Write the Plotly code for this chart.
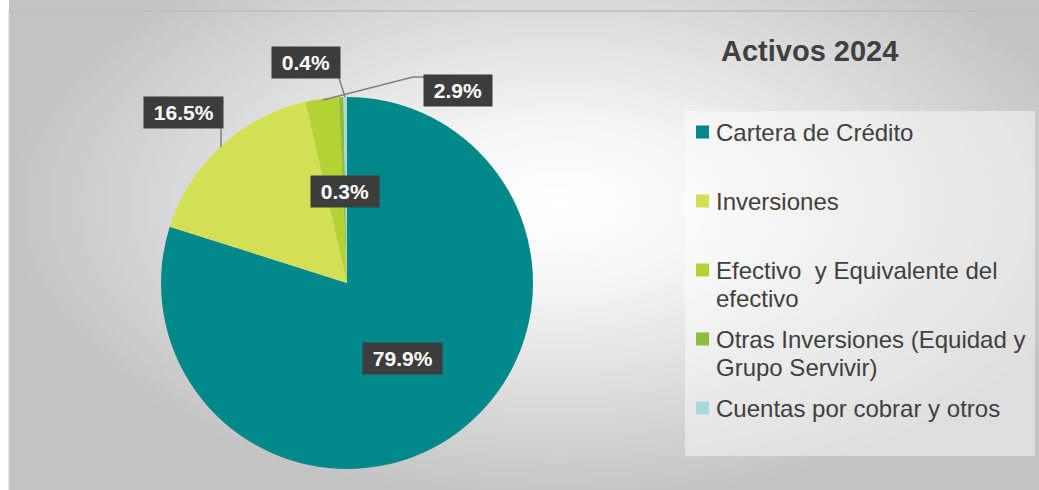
import plotly.graph_objects as go

# ---- data ----
categories = [
    "Cartera de Crédito",
    "Inversiones",
    "Efectivo \u00a0y Equivalente del\nefectivo",
    "Otras Inversiones (Equidad y\nGrupo Servivir)",
    "Cuentas por cobrar y otros",
]
values = [79.9, 16.5, 2.9, 0.4, 0.3]
colors = ["#00888B", "#D3E056", "#B3D335", "#8CBD3E", "#A9D8DA"]
title_text = "Activos 2024"

W, H = 1039, 490
OFF = 0  # body margin removed via post_script; layout coordinates are screen pixels
FONT = "Liberation Sans, Arial, sans-serif"

# label box centres (layout) and leader lines (layout), per slice
label_pos = [(402.5, 358.5), (183, 112), (457.5, 90.5), (306, 62), (344.5, 191.5)]
leaders = [None, [(221, 129), (221, 147)], [(323, 100), (413, 77), (425, 77)],
           [(339, 78), (345, 97)], None]

fig = go.Figure()

# background with radial gradient
bx0, bx1, by0, by1 = 9, 1111, -90, 500
fig.add_trace(go.Scatter(
    x=[bx0, bx1, bx1, bx0, bx0], y=[by0, by0, by1, by1, by0],
    mode="lines", fill="toself", line=dict(width=0),
    fillgradient=dict(type="radial",
                      colorscale=[[0, "#ffffff"], [0.25, "#f7f7f7"], [1, "#c4c4c4"]]),
    hoverinfo="skip", showlegend=False,
))

# pie
cx, cy, r = 347, 283, 186
fig.add_trace(go.Pie(
    labels=[c.replace("\n", " ") for c in categories], values=values,
    marker=dict(colors=colors, line=dict(width=0)),
    sort=False, direction="clockwise", rotation=0,
    textinfo="none", hoverinfo="skip", showlegend=False,
    domain=dict(x=[(cx - r - OFF) / W, (cx + r - OFF) / W],
                y=[1 - (cy + r - OFF) / H, 1 - (cy - r - OFF) / H]),
))

shapes = []
annotations = []

# chart frame lines
shapes.append(dict(type="line", xref="x", yref="y", x0=9, y0=11, x1=W + OFF, y1=11,
                   line=dict(color="#bdbdbd", width=1.5)))
shapes.append(dict(type="line", xref="x", yref="y", x0=9, y0=11, x1=9, y1=H + OFF,
                   line=dict(color="#cfcfcf", width=1)))

# legend box
shapes.append(dict(type="rect", xref="x", yref="y", x0=685, y0=111, x1=1035, y1=456,
                   fillcolor="rgba(255,255,255,0.45)", line=dict(width=0), layer="above"))

# leader lines
for ld in leaders:
    if ld is None:
        continue
    for (xa, ya), (xb, yb) in zip(ld[:-1], ld[1:]):
        shapes.append(dict(type="line", xref="x", yref="y", x0=xa, y0=ya, x1=xb, y1=yb,
                           line=dict(color="#7f7f7f", width=1.5)))

# data labels
for v, (lx, ly) in zip(values, label_pos):
    annotations.append(dict(
        x=lx, y=ly, xref="x", yref="y", showarrow=False,
        text=f"<b>\u00a0{v:.1f}%\u00a0</b>",
        font=dict(family=FONT, size=21, color="white"),
        bgcolor="#3d3d3d", borderpad=4, xanchor="center", yanchor="middle",
    ))

# title
annotations.append(dict(x=809, y=51, xref="x", yref="y", showarrow=False,
                        text=f"<b>{title_text}</b>",
                        font=dict(family=FONT, size=29, color="#404040"),
                        xanchor="center", yanchor="middle"))

# custom legend
for i, (cat, col) in enumerate(zip(categories, colors)):
    yc = 132 + 69 * i
    shapes.append(dict(type="rect", xref="x", yref="y", x0=696, x1=709,
                       y0=yc - 6.5, y1=yc + 6.5, fillcolor=col, line=dict(width=0),
                       layer="above"))
    for j, line in enumerate(cat.split("\n")):
        annotations.append(dict(x=714, y=yc + 28 * j, xref="x", yref="y", showarrow=False,
                                text=line, font=dict(family=FONT, size=24, color="#404040"),
                                xanchor="left", yanchor="middle"))

fig.update_layout(
    width=W, height=H,
    margin=dict(l=0, r=0, t=0, b=0),
    paper_bgcolor="white", plot_bgcolor="rgba(0,0,0,0)",
    xaxis=dict(range=[OFF, W + OFF], visible=False, fixedrange=True),
    yaxis=dict(range=[H + OFF, OFF], visible=False, fixedrange=True),
    shapes=shapes, annotations=annotations,
    showlegend=False,
)

fig.write_html(
    "out.html",
    config={"displayModeBar": False},
    post_script="document.body.style.margin='0';document.body.style.overflow='hidden';",
)
